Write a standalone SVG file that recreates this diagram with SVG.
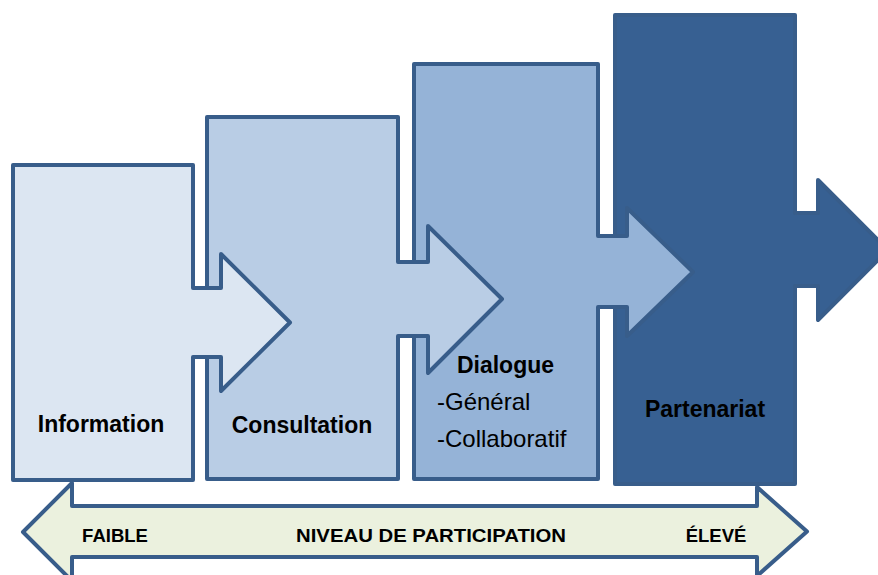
<svg xmlns="http://www.w3.org/2000/svg" width="878" height="575" viewBox="0 0 878 575">
<style>
.s{stroke:#385d8a;stroke-width:4;stroke-linejoin:round}
.t{font-family:"Liberation Sans",Arial,sans-serif;fill:#000}
.b{font-weight:bold}
.m{font-size:23px}
.r{font-size:24px}
.f{font-size:18.5px}
</style>
<rect width="878" height="575" fill="#fff"/>
<g id="connectors">
<g id="scale">
<path class="s" fill="#ebf1de" d="M23,532 L72,483 V506 H757 V487 L807,531.5 L757,576 V557 H72 V581 Z"/>
<text class="t b f" x="115" y="542" text-anchor="middle">FAIBLE</text>
<text class="t b f" x="296" y="542" textLength="270" lengthAdjust="spacingAndGlyphs">NIVEAU DE PARTICIPATION</text>
<text class="t b f" x="716" y="542" text-anchor="middle">ÉLEVÉ</text>
</g>
</g>
<g id="partenariat">
<path class="s" fill="#376092" d="M615,15 H795 V213 H818 V180 L888,250 L818,320 V286 H795 V484 H615 Z"/>
<text class="t b m" x="705" y="417" text-anchor="middle">Partenariat</text>
</g>
<g id="dialogue">
<path class="s" fill="#95b3d7" d="M414,64 H598 V236 H627 V208 L693,272 L627,336 V307 H598 V479 H414 Z"/>
<text class="t b m" x="505.5" y="373" text-anchor="middle">Dialogue</text>
<text class="t r" x="437" y="410">-Général</text>
<text class="t r" x="437" y="447">-Collaboratif</text>
</g>
<g id="consultation">
<path class="s" fill="#b9cde5" d="M207,117 H398 V262 H428 V226 L502,299 L428,373 V336 H398 V479 H207 Z"/>
<text class="t b m" x="302" y="433" text-anchor="middle">Consultation</text>
</g>
<g id="information">
<path class="s" fill="#dce6f2" d="M13,165 H193 V288 H221 V254 L290,322.5 L221,391 V357 H193 V480 H13 Z"/>
<text class="t b m" x="101" y="432" text-anchor="middle">Information</text>
</g>
</svg>
